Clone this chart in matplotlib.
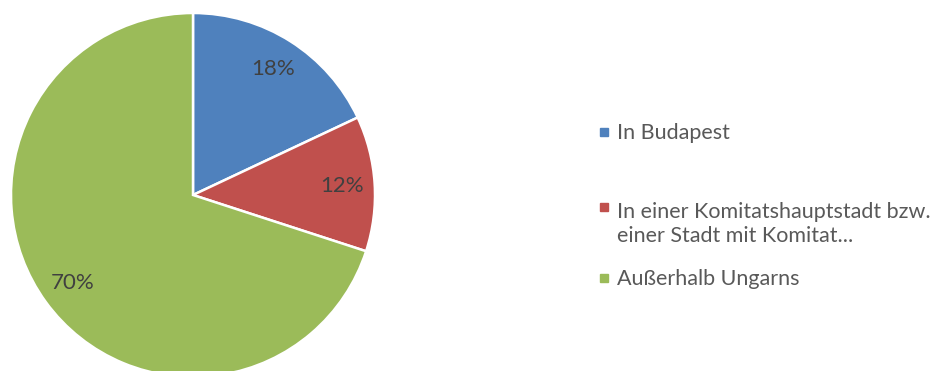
import matplotlib
matplotlib.use('Agg')
import matplotlib.pyplot as plt
from matplotlib.patches import Rectangle

# Wohnort-Anteile
labels = ['In Budapest',
          'In einer Komitatshauptstadt bzw.\neiner Stadt mit Komitat...',
          'Außerhalb Ungarns']
shares = [18, 12, 70]
colors = ['#4F81BD', '#C0504D', '#9BBB59']

plt.rcParams['font.family'] = ['Lato', 'DejaVu Sans']

fig = plt.figure(figsize=(9.47, 3.71), dpi=100)

# pie axes: square box 364 px, centre at (193, 195) from top-left
W, H = 947, 371
ax = fig.add_axes([11 / W, (H - 377) / H, 364 / W, 364 / H])
wedges, texts, autotexts = ax.pie(
    shares, colors=colors, startangle=90, counterclock=False,
    autopct='%1.0f%%', pctdistance=0.82,
    wedgeprops=dict(edgecolor='white', linewidth=1.8),
    textprops=dict(color='#404040', fontsize=16))
ax.set_xlim(-1, 1)
ax.set_ylim(-1, 1)
ax.axis('off')

# legend drawn by hand, entries sit at uneven heights
# marker_y: first-line baseline, text_y: last-line baseline
marker_y = [139, 214, 285]
text_y = [139, 242, 285]
for lab, col, my, ty in zip(labels, colors, marker_y, text_y):
    fig.patches.append(Rectangle((600 / W, (H - my + 3) / H), 8 / W, 8 / H,
                                 transform=fig.transFigure, color=col))
    fig.text(617 / W, (H - ty) / H, lab, color='#595959', fontsize=15.5,
             va='baseline', linespacing=1.25,
             transform=fig.transFigure)

fig.savefig('out.png', dpi=100)
